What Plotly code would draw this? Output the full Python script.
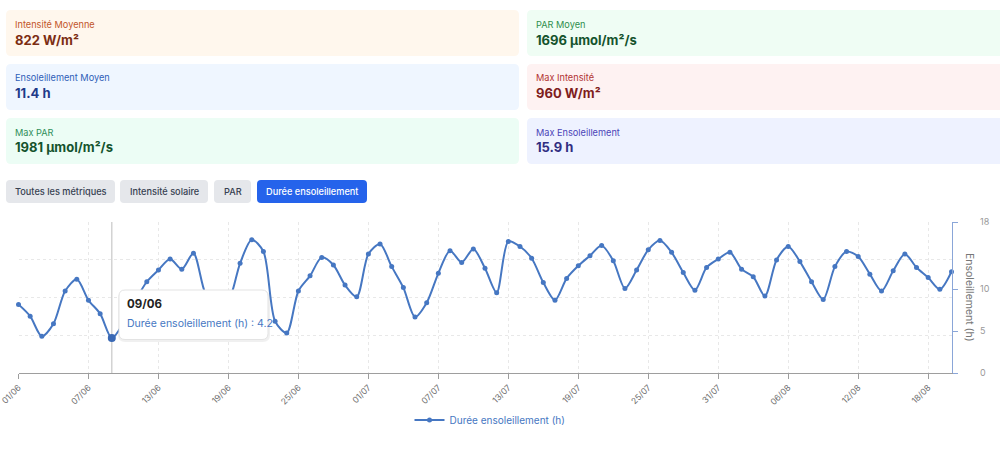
import pandas as pd
import plotly.graph_objects as go

# ---------------- data ----------------
dates = [d.strftime("%d/%m") for d in pd.date_range("2024-06-01", "2024-08-20", freq="D")]
sunshine_hours = [
    8.2, 6.8, 4.4, 5.9, 9.8, 11.2, 8.7, 7.1, 4.2, 6.0,
    8.6, 10.9, 12.3, 13.6, 12.4, 14.3, 9.6, 7.8, 8.6, 13.1,
    15.9, 14.5, 6.2, 4.8, 9.8, 11.6, 13.8, 12.9, 10.5, 9.1,
    14.2, 15.4, 12.7, 10.2, 6.7, 8.4, 11.9, 14.6, 13.2, 14.8,
    12.5, 9.6, 15.7, 15.1, 13.7, 10.8, 8.7, 11.3, 12.8, 14.0,
    15.2, 13.4, 10.1, 12.3, 14.7, 15.8, 14.4, 12.0, 9.9, 12.6,
    13.6, 14.4, 12.4, 11.5, 9.2, 13.5, 15.1, 13.3, 10.9, 8.8,
    12.7, 14.5, 13.9, 11.8, 9.8, 12.2, 14.2, 12.6, 11.4, 10.0,
    12.1,
]
series_name = "Durée ensoleillement (h)"
y_ticks = [0, 5, 10, 18]
x_tick_labels = dates[::6]
hover_date = "09/06"

card_labels = ["Intensité Moyenne", "PAR Moyen", "Ensoleillement Moyen",
               "Max Intensité", "Max PAR", "Max Ensoleillement"]
card_values = ["822 W/m²", "1696 µmol/m²/s", "11.4 h",
               "960 W/m²", "1981 µmol/m²/s", "15.9 h"]
card_bg = ["#fff7ed", "#effdf4", "#eff6ff", "#fef2f2", "#ecfdf5", "#eef2ff"]
card_label_color = ["#c2562a", "#2f8f4e", "#2f5fb8", "#b23434", "#2f8f5a", "#4b45b8"]
card_value_color = ["#7c2d12", "#14532d", "#1e3a8a", "#7f1d1d", "#14532d", "#312e81"]

buttons = ["Toutes les métriques", "Intensité solaire", "PAR", "Durée ensoleillement"]
active_button = "Durée ensoleillement"

# ---------------- layout helpers ----------------
W, H = 1000, 465
FONT = "Inter"
LINE_COLOR = "#4677c2"


def px(x):
    return x / W


def py(y):
    return 1 - y / H


def rrect(x0, y0, x1, y1, r):
    pts = [
        ("M", [(x0 + r, y0)]), ("L", [(x1 - r, y0)]), ("Q", [(x1, y0), (x1, y0 + r)]),
        ("L", [(x1, y1 - r)]), ("Q", [(x1, y1), (x1 - r, y1)]), ("L", [(x0 + r, y1)]),
        ("Q", [(x0, y1), (x0, y1 - r)]), ("L", [(x0, y0 + r)]), ("Q", [(x0, y0), (x0 + r, y0)]),
    ]
    s = ""
    for cmd, ps in pts:
        s += cmd + " " + " ".join(f"{px(a):.5f},{py(b):.5f}" for a, b in ps) + " "
    return s + "Z"


shapes = []
annotations = []

# cards
card_cols = [(6, 519), (527, 1012)]
card_rows = [(10, 56), (64, 110), (118, 164)]
for i, (lab, val) in enumerate(zip(card_labels, card_values)):
    r, c = divmod(i, 2)
    x0, x1 = card_cols[c]
    y0, y1 = card_rows[r]
    shapes.append(dict(type="path", path=rrect(x0, y0, x1, y1, 5), xref="paper", yref="paper",
                       fillcolor=card_bg[i], line=dict(width=0), layer="below"))
    annotations.append(dict(x=px(x0 + 7), y=py(y0 + 14), xref="paper", yref="paper", text=lab,
                            showarrow=False, xanchor="left", yanchor="middle",
                            font=dict(family=FONT, size=9.2, color=card_label_color[i])))
    annotations.append(dict(x=px(x0 + 6.5), y=py(y0 + 29.5), xref="paper", yref="paper", text=val,
                            showarrow=False, xanchor="left", yanchor="middle",
                            font=dict(family=FONT, size=13, color=card_value_color[i], weight=700)))

# buttons
btn_x = [(6, 115), (120, 208), (214, 251), (257, 367)]
for name, (x0, x1) in zip(buttons, btn_x):
    active = name == active_button
    shapes.append(dict(type="path", path=rrect(x0, 180, x1, 203, 4), xref="paper", yref="paper",
                       fillcolor="#2563eb" if active else "#e5e7eb", line=dict(width=0), layer="below"))
    annotations.append(dict(x=px((x0 + x1) / 2), y=py(191.5), xref="paper", yref="paper", text=name,
                            showarrow=False, xanchor="center", yanchor="middle",
                            font=dict(family=FONT, size=9.2, color="#ffffff" if active else "#374151",
                                      weight=500)))

hi = dates.index(hover_date)

# cursor line at hovered date
shapes.append(dict(type="line", xref="x", yref="paper", x0=hover_date, x1=hover_date,
                   y0=py(373.3), y1=py(222.1), line=dict(color="#cccccc", width=1.3), layer="below"))

# tooltip box
shapes.append(dict(type="path", path=rrect(118, 291, 270, 342, 7), xref="paper", yref="paper",
                   fillcolor="rgba(0,0,0,0.06)", line=dict(width=0), layer="above"))
shapes.append(dict(type="path", path=rrect(119, 290, 268, 339.5, 6), xref="paper", yref="paper",
                   fillcolor="#ffffff", line=dict(color="#e3e3e3", width=1), layer="above"))
annotations.append(dict(x=px(125), y=py(304), xref="paper", yref="paper", text=hover_date,
                        showarrow=False, xanchor="left", yanchor="middle",
                        font=dict(family=FONT, size=11.5, color="#222222", weight=700)))
annotations.append(dict(x=px(125), y=py(323), xref="paper", yref="paper",
                        text=f"{series_name} : {sunshine_hours[hi]}",
                        showarrow=False, xanchor="left", yanchor="middle",
                        font=dict(family=FONT, size=10.5, color=LINE_COLOR)))

# right axis title
annotations.append(dict(x=px(970), y=py(297), xref="paper", yref="paper", text="Ensoleillement (h)",
                        showarrow=False, xanchor="center", yanchor="middle", textangle=90,
                        font=dict(family=FONT, size=10.5, color="#777777")))

fig = go.Figure()
fig.add_trace(go.Scatter(x=[dates[0]], y=[None], yaxis="y2", showlegend=False, hoverinfo="skip"))
fig.add_trace(go.Scatter(x=[dates[0]], y=[None], yaxis="y3", showlegend=False, hoverinfo="skip"))
fig.add_trace(go.Scatter(
    x=dates, y=sunshine_hours, name=series_name, mode="lines+markers",
    line=dict(color=LINE_COLOR, width=2, shape="spline", smoothing=0.8),
    marker=dict(size=5, color=LINE_COLOR), cliponaxis=False,
))
fig.add_trace(go.Scatter(
    x=[hover_date], y=[sunshine_hours[hi]], mode="markers", showlegend=False,
    marker=dict(size=8, color="#3a69b5"), cliponaxis=False, hoverinfo="skip",
))

ydom = [py(373.3), py(222.1)]
fig.update_layout(
    width=W, height=H,
    margin=dict(l=0, r=0, t=0, b=0, autoexpand=False),
    paper_bgcolor="#ffffff", plot_bgcolor="#ffffff",
    font=dict(family=FONT),
    shapes=shapes, annotations=annotations,
    hovermode=False,
    xaxis=dict(
        type="category", domain=[px(18.5), px(951.5)], range=[0, len(dates) - 1],
        tickmode="array", tickvals=x_tick_labels, ticktext=x_tick_labels,
        tickangle=-45, tickfont=dict(size=8.5, color="#6e6e6e"),
        showline=True, linecolor="#9e9e9e", linewidth=1,
        ticks="outside", ticklen=5, tickcolor="#9e9e9e",
        showgrid=True, gridcolor="#e8e8e8", griddash="dot", zeroline=False,
        automargin=False,
    ),
    yaxis=dict(
        domain=ydom, range=[0, 18], side="right", anchor="x",
        tickmode="array", tickvals=y_ticks, showticklabels=False,
        showline=True, linecolor="#8aa6d8", linewidth=1,
        ticks="outside", ticklen=5, tickcolor="#8aa6d8",
        showgrid=False, zeroline=False, automargin=False,
    ),
    yaxis2=dict(
        overlaying="y", side="left", anchor="x", range=[0, 4], dtick=1,
        showticklabels=False, showline=False, zeroline=False,
        showgrid=True, gridcolor="#e8e8e8", griddash="dot", automargin=False,
    ),
    yaxis3=dict(
        overlaying="y", side="right", anchor="free", position=px(979), range=[0, 18],
        tickmode="array", tickvals=y_ticks, tickfont=dict(size=9, color="#999999"),
        showline=False, ticks="", showgrid=False, zeroline=False, automargin=False,
    ),
    showlegend=True,
    legend=dict(orientation="h", x=px(490), xanchor="center", y=py(420), yanchor="middle",
                font=dict(family=FONT, size=10, color=LINE_COLOR), itemwidth=30,
                bgcolor="rgba(0,0,0,0)"),
)

fig.write_html("out.html")
